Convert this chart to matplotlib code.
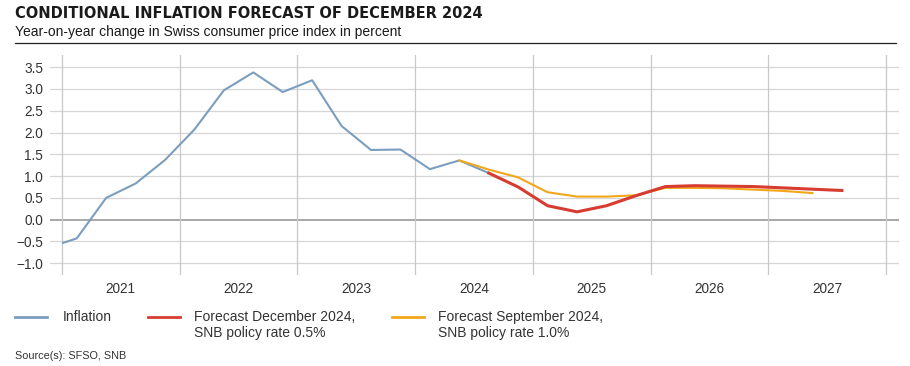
import matplotlib.pyplot as plt
from matplotlib.lines import Line2D
from matplotlib.patches import Rectangle

plt.rcParams['font.family'] = ['Liberation Sans', 'DejaVu Sans']

# Quarterly data, plotted at mid-quarter
infl_q = ['2020Q4', '2021Q1', '2021Q2', '2021Q3', '2021Q4', '2022Q1', '2022Q2', '2022Q3',
          '2022Q4', '2023Q1', '2023Q2', '2023Q3', '2023Q4', '2024Q1', '2024Q2', '2024Q3']
infl_v = [-0.65, -0.43, 0.50, 0.83, 1.37, 2.07, 2.97, 3.38,
          2.93, 3.20, 2.15, 1.60, 1.61, 1.16, 1.36, 1.07]

dec_q = ['2024Q3', '2024Q4', '2025Q1', '2025Q2', '2025Q3', '2025Q4', '2026Q1', '2026Q2',
         '2026Q3', '2026Q4', '2027Q1', '2027Q2', '2027Q3']
dec_v = [1.07, 0.75, 0.32, 0.18, 0.32, 0.55, 0.76, 0.78, 0.77, 0.76, 0.73, 0.70, 0.67]

sep_q = ['2024Q2', '2024Q3', '2024Q4', '2025Q1', '2025Q2', '2025Q3', '2025Q4', '2026Q1',
         '2026Q2', '2026Q3', '2026Q4', '2027Q1', '2027Q2']
sep_v = [1.36, 1.15, 0.97, 0.63, 0.53, 0.53, 0.56, 0.73, 0.73, 0.72, 0.69, 0.66, 0.61]

years = [2021, 2022, 2023, 2024, 2025, 2026, 2027]
yticks = [-1.0, -0.5, 0.0, 0.5, 1.0, 1.5, 2.0, 2.5, 3.0, 3.5]

c_infl = '#7b9ebf'
c_dec = '#d63c30'
c_sep = '#f2a71b'


def qpos(q):
    return int(q[:4]) + (int(q[-1]) - 1) * 0.25 + 0.125


W, H = 910, 366
fig = plt.figure(figsize=(W / 100, H / 100), dpi=100)

ax = fig.add_axes([50 / W, 1 - 275 / H, 849 / W, 220 / H])
ax.set_xlim(2020.898, 2028.11)
ax.set_ylim(-1.27, 3.78)

# grid
for y in yticks:
    ax.axhline(y, color='#a8a8a8' if y == 0 else '#d6d6d6', lw=1.4 if y == 0 else 0.9, zorder=1)
for yr in years + [2028]:
    ax.axvline(yr, color='#c8c8c8', lw=0.9, zorder=1)

ln, = ax.plot([qpos(q) for q in infl_q], infl_v, color=c_infl, lw=1.5, zorder=3)
ln.set_clip_path(Rectangle((2021, -5), 10, 10, transform=ax.transData))
ax.plot([qpos(q) for q in sep_q], sep_v, color=c_sep, lw=1.5, zorder=4)
ax.plot([qpos(q) for q in dec_q], dec_v, color=c_dec, lw=2.2, zorder=5)

ax.set_yticks(yticks)
ax.set_yticklabels([f'{v:.1f}'.replace('-', '\u2212') for v in yticks])
ax.set_xticks([y + 0.5 for y in years])
ax.set_xticklabels([str(y) for y in years])
ax.tick_params(axis='both', length=0, labelsize=9.8, colors='#333333')
ax.tick_params(axis='y', pad=5)
ax.tick_params(axis='x', pad=5)
for s in ax.spines.values():
    s.set_visible(False)

# header
fig.text(15 / W, 1 - 13 / H, 'CONDITIONAL INFLATION FORECAST OF DECEMBER 2024',
         fontsize=10.5, fontweight='bold', va='center', ha='left', color='#1a1a1a',
         family='DejaVu Sans')
fig.text(15 / W, 1 - 32 / H, 'Year-on-year change in Swiss consumer price index in percent',
         fontsize=10, va='center', ha='left', color='#1a1a1a')
fig.add_artist(Line2D([15 / W, 896 / W], [1 - 43 / H, 1 - 43 / H], color='#222222', lw=0.9))

# legend
leg = [(15, 63, c_infl, 'Inflation'),
       (148, 194, c_dec, 'Forecast December 2024,\nSNB policy rate 0.5%'),
       (392, 438, c_sep, 'Forecast September 2024,\nSNB policy rate 1.0%')]
for x0, xt, c, lab in leg:
    fig.add_artist(Line2D([x0 / W, (x0 + 32) / W], [1 - 317 / H] * 2, color=c, lw=2))
    fig.text(xt / W, 1 - 310 / H, lab, fontsize=10, va='top', ha='left',
             color='#333333', linespacing=1.17)

fig.text(15 / W, 1 - 356 / H, 'Source(s): SFSO, SNB', fontsize=7.8, va='center',
         ha='left', color='#333333')

fig.savefig('out.png', dpi=100)
